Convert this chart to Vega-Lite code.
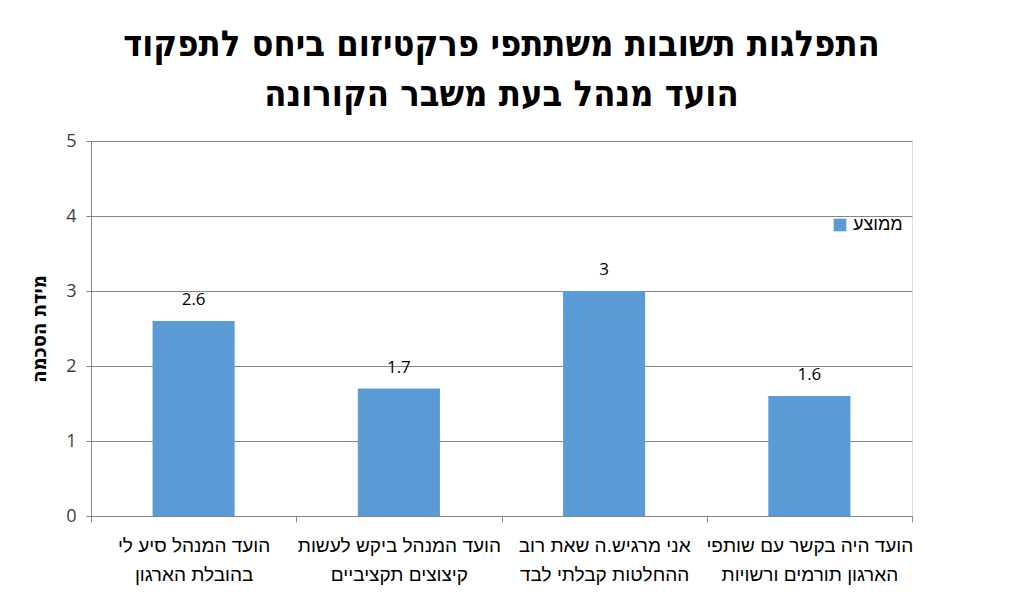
{
  "$schema": "https://vega.github.io/schema/vega-lite/v6.json",
  "autosize": "none",
  "width": 821,
  "height": 375,
  "padding": {"left": 91, "top": 141, "right": 124, "bottom": 83},
  "background": "white",
  "title": {
    "text": ["התפלגות תשובות משתתפי פרקטיזום ביחס לתפקוד", "הועד מנהל בעת משבר הקורונה"],
    "font": "DejaVu Sans Condensed",
    "fontSize": 36,
    "fontWeight": "bold",
    "lineHeight": 50,
    "color": "black",
    "anchor": "middle",
    "offset": 18
  },
  "data": {
    "values": [
      {"q": "הועד המנהל סיע לי|בהובלת הארגון", "avg": 2.6, "series": "ממוצע"},
      {"q": "הועד המנהל ביקש לעשות|קיצוצים תקציביים", "avg": 1.7, "series": "ממוצע"},
      {"q": "אני מרגיש.ה שאת רוב|ההחלטות קבלתי לבד", "avg": 3, "series": "ממוצע"},
      {"q": "הועד היה בקשר עם שותפי|הארגון תורמים ורשויות", "avg": 1.6, "series": "ממוצע"}
    ]
  },
  "encoding": {
    "x": {
      "field": "q",
      "type": "nominal",
      "sort": null,
      "scale": {"paddingInner": 0, "paddingOuter": 0},
      "axis": {
        "title": null,
        "labelAngle": 0,
        "labelExpr": "split(datum.label, '|')",
        "labelFont": "Liberation Sans Narrow, sans-serif",
        "labelFontSize": 19,
        "labelColor": "black",
        "labelLineHeight": 29,
        "labelPadding": 14,
        "tickBand": "extent",
        "tickColor": "#868686",
        "tickSize": 6,
        "domainColor": "#868686",
        "labelLimit": 300
      }
    },
    "y": {
      "field": "avg",
      "type": "quantitative",
      "scale": {"domain": [0, 5]},
      "axis": {
        "title": "מידת הסכמה",
        "titleFont": "DejaVu Sans Condensed",
        "titleFontSize": 20,
        "titleFontWeight": "bold",
        "titleColor": "black",
        "titlePadding": 16,
        "values": [0, 1, 2, 3, 4, 5],
        "labelFont": "Open Sans",
        "labelFontSize": 18,
        "labelColor": "#404040",
        "labelPadding": 10,
        "tickColor": "#868686",
        "tickSize": 5,
        "domainColor": "#868686",
        "grid": true,
        "gridColor": "#868686"
      }
    }
  },
  "layer": [
    {
      "mark": {"type": "bar", "width": {"band": 0.4}, "color": "#5B9BD5"},
      "encoding": {
        "color": {
          "field": "series",
          "type": "nominal",
          "scale": {"range": ["#5B9BD5"]},
          "legend": {
            "title": null,
            "orient": "none",
            "legendX": 740,
            "legendY": 75,
            "symbolType": "square",
            "symbolSize": 160,
            "labelFont": "Liberation Sans Narrow, sans-serif",
            "labelFontSize": 18,
            "labelColor": "black"
          }
        }
      }
    },
    {
      "mark": {"type": "text", "dy": -21, "font": "Open Sans", "fontSize": 17, "color": "black"},
      "encoding": {"text": {"field": "avg", "type": "quantitative"}}
    }
  ]
}
